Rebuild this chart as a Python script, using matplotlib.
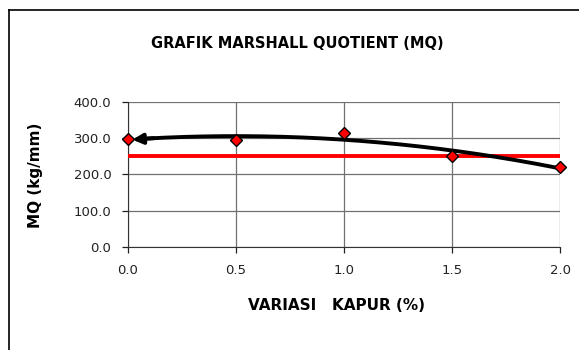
import numpy as np
import matplotlib.pyplot as plt
from matplotlib.lines import Line2D

# data
kapur = [0.0, 0.5, 1.0, 1.5, 2.0]
mq = [298, 296, 314, 252, 221]
mq_min = 250

fig = plt.figure(figsize=(5.79, 3.5), dpi=100)
ax = fig.add_axes([0.2211, 0.2943, 0.7461, 0.4143])

# polynomial trendline (order 2), like the spreadsheet one
coef = np.polyfit(kapur, mq, 2)
xs = np.linspace(0.0, 2.0, 200)
ys = np.polyval(coef, xs)

ax.axhline(mq_min, color='#ff0000', lw=2.8, zorder=3)
ax.plot(xs[8:], ys[8:], color='black', lw=2.8, zorder=4, solid_capstyle='butt')
ax.annotate('', xy=(0.02, ys[0]), xytext=(xs[12], ys[12]),
            arrowprops=dict(arrowstyle='-|>,head_length=0.6,head_width=0.3',
                            color='black', lw=2.8, shrinkA=0, shrinkB=0),
            zorder=5)
ax.plot(kapur, mq, linestyle='none', marker='D', ms=6.5, mfc='#ff0000',
        mec='black', mew=1.0, zorder=6, clip_on=False)

ax.set_xlim(0, 2.0)
ax.set_ylim(0, 400)
ax.set_xticks(kapur)
ax.set_yticks([0, 100, 200, 300, 400])
ax.set_xticklabels([f'{v:.1f}' for v in kapur])
ax.set_yticklabels([f'{v:.1f}' for v in [0, 100, 200, 300, 400]])
ax.grid(True, color='#707070', lw=0.9)
ax.set_axisbelow(True)
for s in ['top', 'right']:
    ax.spines[s].set_visible(False)
for s in ['left', 'bottom']:
    ax.spines[s].set_color('#333333')
ax.tick_params(labelsize=9.5, colors='#222222', length=4, width=0.9, pad=8)
ax.tick_params(axis='x', pad=8)

fig.text(0.513, 0.877, 'GRAFIK MARSHALL QUOTIENT (MQ)', ha='center', va='center',
         fontsize=10.5, fontweight='bold')
fig.text(0.582, 0.128, 'VARIASI   KAPUR (%)', ha='center', va='center',
         fontsize=11, fontweight='bold')
fig.text(0.062, 0.50, 'MQ (kg/mm)', ha='center', va='center', rotation=90,
         fontsize=11, fontweight='bold')

# outer chart border (left and top visible)
fig.add_artist(Line2D([0.0147, 0.0147], [0, 0.971], color='black', lw=1.2))
fig.add_artist(Line2D([0.0147, 1.0], [0.971, 0.971], color='black', lw=1.2))

fig.savefig('out.png', dpi=100)
